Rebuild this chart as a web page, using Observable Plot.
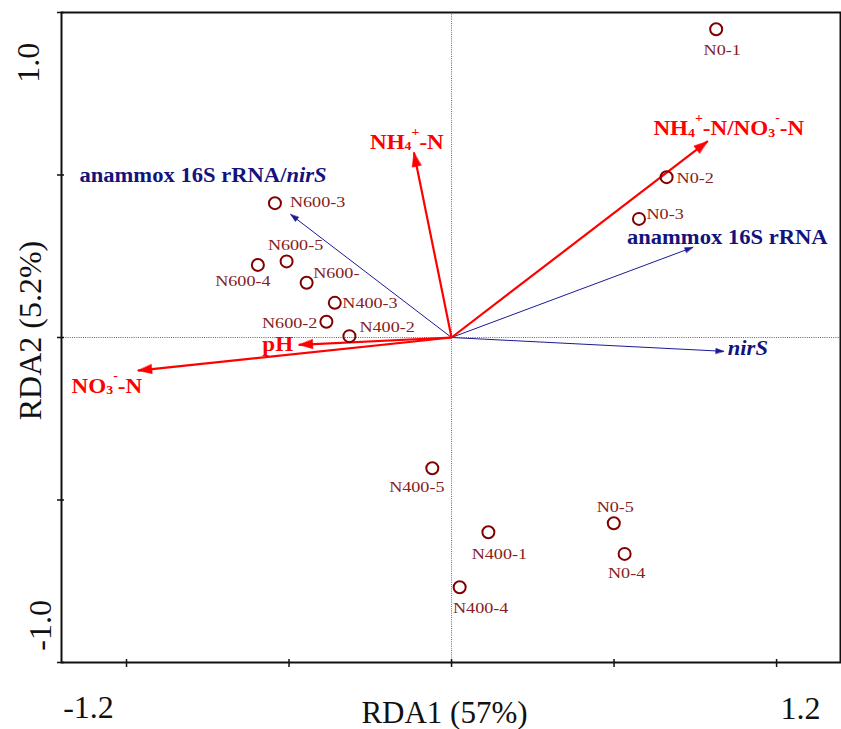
<!DOCTYPE html>
<html>
<head>
<meta charset="utf-8">
<script src="https://cdn.jsdelivr.net/npm/d3@7"></script>
<script src="https://cdn.jsdelivr.net/npm/@observablehq/plot@0.6"></script>
<style>
  body { margin: 0; background: #fff; }
  #chart svg { display: block; }
</style>
</head>
<body>
<div id="chart"></div>
<script>
// ---- Data ----
const sampleNames = ["N0-1","N0-2","N0-3","N0-4","N0-5","N400-1","N400-2","N400-3","N400-4","N400-5","N600-","N600-2","N600-3","N600-4","N600-5"];
const sampleRDA1  = [0.977, 0.794, 0.692, 0.639, 0.599, 0.136, -0.377, -0.431, 0.030, -0.071, -0.535, -0.462, -0.652, -0.715, -0.609];
const sampleRDA2  = [1.138, 0.592, 0.438, -0.799, -0.686, -0.719, 0.005, 0.128, -0.922, -0.483, 0.202, 0.058, 0.496, 0.268, 0.281];

// environmental variables (red arrows); markup: _x subscript, ^x superscript, *..* italic
const envNames = ["NH_4^+-N", "NH_4^+-N/NO_3^--N", "pH", "NO_3^--N"];
const envRDA1  = [-0.139, 0.946, -0.564, -1.158];
const envRDA2  = [0.683, 0.725, -0.027, -0.122];

// response variables (blue arrows)
const speciesNames = ["anammox 16S rRNA/*nirS*", "anammox 16S rRNA", "*nirS*"];
const speciesRDA1  = [-0.594, 0.891, 1.005];
const speciesRDA2  = [0.454, 0.333, -0.051];

const xTitle = "RDA1 (57%)";
const yTitle = "RDA2 (5.2%)";
const xTickValues = [-1.2, 1.2];
const xTickLabels = ["-1.2", "1.2"];
const yTickValues = [1.0, -1.0];
const yTickLabels = ["1.0", "-1.0"];
const tickMarks = [-1.2, -0.6, 0, 0.6, 1.2];

// ---- Layout (label placement: anchor, dx, dy in px) ----
const sampleLabelLayout = {
  "N0-1": ["middle", 6, 26], "N0-2": ["start", 10, 5.5], "N0-3": ["start", 7.5, 0],
  "N0-4": ["middle", 2, 24], "N0-5": ["middle", 1.5, -11], "N400-1": ["middle", 11, 26.5],
  "N400-2": ["start", 10, -4], "N400-3": ["start", 7.5, 5.5], "N400-4": ["middle", 21, 26],
  "N400-5": ["middle", -15.5, 24], "N600-": ["start", 6.5, -5], "N600-2": ["end", -9, 6],
  "N600-3": ["start", 15, 4], "N600-4": ["middle", -15, 21], "N600-5": ["middle", 9, -11]
};
const envLabelLayout = {
  "NH_4^+-N": ["middle", -7, -4], "NH_4^+-N/NO_3^--N": ["middle", 21, -6],
  "pH": ["end", -5.6, 5.7], "NO_3^--N": ["middle", -31, 22]
};
const speciesLabelLayout = {
  "anammox 16S rRNA/*nirS*": ["end", 36, -33], "anammox 16S rRNA": ["start", -66, -3], "*nirS*": ["start", 4, 4]
};

const FONT = "'Liberation Serif', 'Times New Roman', Times, serif";
const RED = "#ff0000", NAVY = "#13137d", NAVY_LINE = "#1a1a95", DARKRED = "#800000", DARKRED_TXT = "#862020";

const samples = sampleNames.map((name, i) => ({name, x: sampleRDA1[i], y: sampleRDA2[i]}));
const env = envNames.map((name, i) => ({name, x: envRDA1[i], y: envRDA2[i]}));
const species = speciesNames.map((name, i) => ({name, x: speciesRDA1[i], y: speciesRDA2[i]}));

const head = (w) => ({
  draw(context, l) {
    context.moveTo(0, -l);
    context.lineTo(-w, 0);
    context.lineTo(w, 0);
    context.closePath();
  }
});
const angle = (d) => Math.atan2(d.x, d.y) * 180 / Math.PI;

const labelMarks = [];
for (const d of samples) {
  const [a, dx, dy] = sampleLabelLayout[d.name];
  labelMarks.push(Plot.text([d], {x: "x", y: "y", text: "name", textAnchor: a, dx, dy, lineAnchor: "bottom",
    fill: DARKRED_TXT, fontSize: 15.5, fontFamily: FONT}));
}
for (const d of env) {
  const [a, dx, dy] = envLabelLayout[d.name];
  labelMarks.push(Plot.text([d], {x: "x", y: "y", text: "name", textAnchor: a, dx, dy, lineAnchor: "bottom",
    fill: RED, fontSize: 21, fontWeight: "bold", fontFamily: FONT}));
}
for (const d of species) {
  const [a, dx, dy] = speciesLabelLayout[d.name];
  labelMarks.push(Plot.text([d], {x: "x", y: "y", text: "name", textAnchor: a, dx, dy, lineAnchor: "bottom",
    fill: NAVY, fontSize: 20, fontWeight: "bold", fontFamily: FONT}));
}

const axisText = {lineAnchor: "bottom", fontSize: 32, fill: "#111", fontFamily: FONT};

const plot = Plot.plot({
  width: 841,
  height: 729,
  marginLeft: 61,
  marginRight: 1,
  marginTop: 12,
  marginBottom: 67,
  style: {background: "white", overflow: "visible", fontFamily: FONT},
  x: {domain: [-1.44, 1.436], label: null},
  y: {domain: [-1.2, 1.2], label: null},
  marks: [
    Plot.ruleX([0], {stroke: "#555", strokeWidth: 0.9, strokeDasharray: "1,1.2"}),
    Plot.ruleY([0], {stroke: "#555", strokeWidth: 0.9, strokeDasharray: "1,1.2"}),
    Plot.frame({stroke: "#111", strokeWidth: 2}),
    Plot.axisY({ticks: tickMarks, tickSize: 7, tickFormat: () => "", dx: 3, stroke: "#111", strokeWidth: 1.5, label: null}),
    Plot.axisX({ticks: tickMarks, tickSize: 8, tickFormat: () => "", dy: -3, stroke: "#111", strokeWidth: 1.5, label: null}),
    // response arrows
    Plot.link(species, {x1: () => 0, y1: () => 0, x2: "x", y2: "y", stroke: NAVY_LINE, strokeWidth: 1}),
    Plot.vector(species, {x: "x", y: "y", rotate: angle, length: 8, anchor: "end", shape: head(2.6),
      fill: NAVY_LINE, stroke: NAVY_LINE, strokeWidth: 0.5}),
    // environmental arrows
    Plot.link(env, {x1: () => 0, y1: () => 0, x2: "x", y2: "y", stroke: RED, strokeWidth: 2.2}),
    Plot.vector(env, {x: "x", y: "y", rotate: angle, length: 14, anchor: "end", shape: head(4.6),
      fill: RED, stroke: RED, strokeWidth: 0.5}),
    // samples
    Plot.dot(samples, {x: "x", y: "y", r: 6, stroke: DARKRED, strokeWidth: 2, fill: "none"}),
    ...labelMarks,
    // axis titles & tick labels
    Plot.text([xTitle], {...axisText, frameAnchor: "bottom", textAnchor: "middle", dx: -6.5, dy: 60, fontSize: 31}),
    Plot.text([yTitle], {...axisText, frameAnchor: "left", textAnchor: "middle", rotate: -90, dx: -21, dy: -7}),
    Plot.text([xTickValues[0]], {...axisText, x: (d) => d, text: () => xTickLabels[0], frameAnchor: "bottom", textAnchor: "middle", dx: -38, dy: 55}),
    Plot.text([xTickValues[1]], {...axisText, x: (d) => d, text: () => xTickLabels[1], frameAnchor: "bottom", textAnchor: "middle", dx: 24, dy: 56}),
    Plot.text([yTickValues[0]], {...axisText, y: (d) => d, text: () => yTickLabels[0], frameAnchor: "left", textAnchor: "middle", rotate: -90, dx: -23, dy: -4}),
    Plot.text([yTickValues[1]], {...axisText, y: (d) => d, text: () => yTickLabels[1], frameAnchor: "left", textAnchor: "middle", rotate: -90, dx: -11, dy: 17})
  ]
});

document.getElementById("chart").appendChild(plot);

// ---- post-processing: horizontal stretch of labels and rich text (sub/sup/italic) ----
const stretch = new Map();
sampleNames.forEach((n) => stretch.set(n, [1.17, 15.5]));
envNames.forEach((n) => stretch.set(n, [1.1, 21]));
speciesNames.forEach((n) => stretch.set(n, [1.13, 20]));

function richify(el, str, base) {
  const segs = [];
  let buf = "", italic = false;
  const flush = () => { if (buf) segs.push({t: buf, k: "n", it: italic}); buf = ""; };
  for (let i = 0; i < str.length; i++) {
    const c = str[i];
    if (c === "_" || c === "^") { flush(); segs.push({t: str[i + 1], k: c === "_" ? "sub" : "sup", it: italic}); i++; }
    else if (c === "*") { flush(); italic = !italic; }
    else buf += c;
  }
  flush();
  el.textContent = "";
  let cur = 0;
  for (const s of segs) {
    const ts = document.createElementNS("http://www.w3.org/2000/svg", "tspan");
    const target = s.k === "sub" ? 0.08 * base : s.k === "sup" ? -0.62 * base : 0;
    if (target !== cur) ts.setAttribute("dy", target - cur);
    cur = target;
    if (s.k !== "n") ts.setAttribute("font-size", 0.6 * base);
    if (s.it) ts.setAttribute("font-style", "italic");
    ts.textContent = s.t;
    el.appendChild(ts);
  }
}

plot.querySelectorAll("text").forEach((el) => {
  const s = el.textContent;
  if (!stretch.has(s)) return;
  const [k, base] = stretch.get(s);
  let tr = el.getAttribute("transform") || "";
  if (el.hasAttribute("x")) { tr = `${tr} translate(${el.getAttribute("x")},0)`; el.removeAttribute("x"); }
  el.setAttribute("transform", `${tr} scale(${k},1)`);
  if (/[_^*]/.test(s)) richify(el, s, base);
});
</script>
</body>
</html>
